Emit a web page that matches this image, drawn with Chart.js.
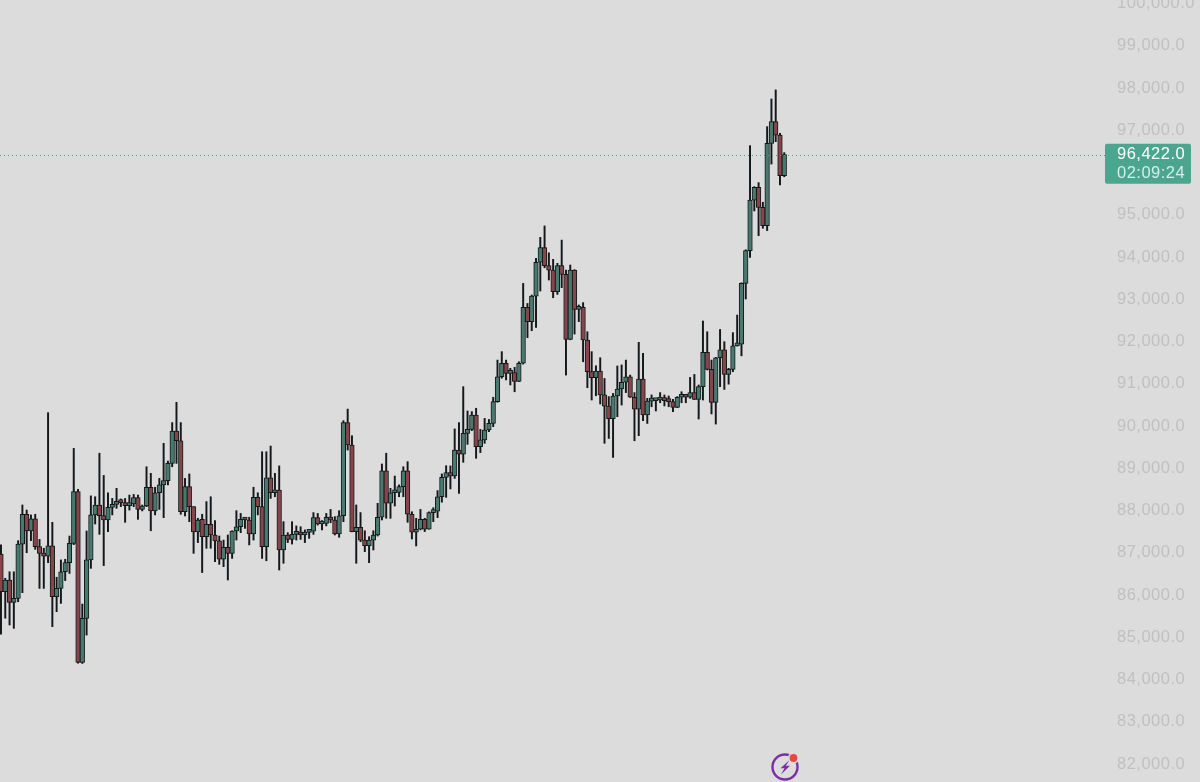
<!DOCTYPE html>
<html>
<head>
<meta charset="utf-8">
<title>BTC chart</title>
<script src="https://cdn.jsdelivr.net/npm/chart.js@4/dist/chart.umd.min.js"></script>
<style>
    html, body { margin: 0; padding: 0; background: #dcdcdc; overflow: hidden; }
    #wrap { position: relative; width: 1200px; height: 782px; }
    #logo { position: absolute; left: 768px; top: 750px; }
</style>
</head>
<body>
<div id="wrap">
    <canvas id="chart" width="1200" height="782"></canvas>
    <svg id="logo" width="34" height="32" viewBox="0 0 34 32">
        <circle cx="17" cy="17" r="12.5" fill="none" stroke="#7b2fa6" stroke-width="2.4"/>
        <path d="M21.5 10 L12.5 18.2 L16.5 18.2 L13 24.5 L22 15.8 L17.8 15.8 Z" fill="#7b2fa6"/>
        <circle cx="25.5" cy="8" r="5.6" fill="#dcdcdc"/>
        <circle cx="25.5" cy="8" r="3.9" fill="#e8483f"/>
    </svg>
</div>
<script>
const opens = [86970,86080,86355,85825,85920,87205,87910,87515,87800,87145,86985,86920,87165,85960,86155,86550,86765,87220,88445,84405,85445,86830,
    87895,88130,87880,87775,88075,88145,88210,88185,88115,88155,88305,88025,88105,88550,87990,88420,88605,88705,89115,89880,89650,87970,88565,88090,87490,
    87790,87380,87670,87420,87280,86845,87130,86985,87515,87615,87790,87775,87445,88310,88090,87145,88775,88420,88485,87065,87420,87315,87435,87470,87420,87480,
    87510,87830,87680,87695,87840,87775,87445,87875,90080,89550,87500,87600,87300,87165,87300,87420,87840,88940,88170,88420,88430,
    88565,88940,87910,87485,87555,87790,87560,87950,87985,88325,88785,88895,88815,89430,89335,89825,89920,90260,89510,89670,89905,90060,90575,91165,91485,91245,91265,91055,
    91485,92810,92470,93075,93875,94220,93795,93690,93180,93795,93590,92050,93690,92760,92810,92035,91285,91145,91300,90735,90470,90175,90710,90875,91035,91165,90680,90395,91110,90260,
    90590,90600,90615,90655,90600,90575,90440,90680,90695,90680,90790,90630,90930,91745,91340,90560,91615,91800,91220,91340,91895,
    91935,93375,94150,95345,95650,95175,94740,96690,97205,96885,95925];
const highs = [87185,86395,86550,86550,87285,88130,88010,87895,87910,87315,87105,90315,87720,86420,86830,86845,87395,89470,88500,85785,87515,88345,
    88325,89355,88830,88420,88285,88525,88272,88285,88365,88380,88365,88130,89035,88880,88550,88760,89590,89170,90080,90560,90080,88760,88865,88090,87815,
    87910,88210,88325,87760,87395,87300,87420,87520,87995,87930,87800,87840,88550,88420,89390,89390,89525,88880,89055,87735,87475,87735,87635,87615,87540,87530,
    87950,87930,87760,87930,88025,87855,87995,90125,90400,89770,88130,87950,87520,87380,87520,88170,89100,89355,88525,88815,88605,
    89035,89155,87970,87815,88025,87815,87970,88065,88470,88865,89060,89055,89930,90080,90930,90355,90340,90420,89920,90180,90155,90680,91560,91760,91560,91365,91390,91520,
    93375,92900,93100,93970,94465,94735,94100,93945,93850,94400,93690,93810,93700,92865,92920,92230,91760,91425,91615,91125,90695,90770,91420,91445,91560,91205,90790,91980,91720,90655,
    90735,90630,90790,90735,90710,90630,90695,90810,90735,91150,91220,90970,92485,92230,91560,91625,92285,91995,91365,92210,92625,
    93390,94170,96635,95665,95760,95295,97085,97740,97955,96930,96470];
const lows = [85070,85450,85290,85210,85840,86055,87000,87285,87080,86155,86155,86765,85250,85605,85800,86340,86510,87190,84385,84380,85050,86630,
    87680,87435,86695,87500,87895,88050,88090,87720,88010,88090,87790,87990,88090,87520,87895,88025,87830,88605,89035,89115,87910,87870,87735,86985,87240,
    86530,87105,87105,86790,86725,86670,86355,86865,87300,87475,87575,87185,87300,87895,86865,86810,88285,88325,86590,86750,87240,87205,87300,87315,87240,87340,
    87435,87655,87540,87635,87710,87420,87365,87735,89430,87495,86750,87260,87025,86765,87065,87395,87775,87815,87815,88105,88325,
    88325,87720,87325,87160,87540,87500,87555,87735,87830,88195,88310,88510,88760,88405,89140,89565,89890,89235,89370,89590,89865,89985,90560,91130,91090,90970,90810,91050,
    91465,92090,92255,92335,93195,93745,93455,93035,93115,93275,91205,92040,92175,92470,91520,90905,90615,90715,90520,89590,89705,89255,90220,90495,90790,90675,89650,89770,90125,90060,
    90455,90355,90550,90475,90455,90340,90435,90550,90550,90655,90625,90165,90615,91325,90285,90045,90930,90865,90990,91285,91890,
    91660,93005,93990,95090,94505,94680,94625,96200,96730,95705,95900];
const closes = [86080,86355,85825,85920,87205,87910,87515,87800,87145,86985,86920,87165,85960,86155,86550,86765,87220,88445,84405,85445,86830,87895,
    88130,87880,87775,88075,88145,88210,88185,88115,88155,88305,88025,88105,88550,87990,88420,88605,88705,89115,89880,89650,87970,88565,88090,87490,87775,
    87380,87670,87420,87280,86845,87130,86985,87515,87615,87790,87775,87445,88310,88090,87145,88775,88420,88485,87065,87420,87315,87435,87470,87420,87480,87510,
    87830,87680,87695,87840,87775,87445,87875,90080,89550,87500,87600,87300,87165,87300,87420,87840,88940,88170,88420,88430,88565,
    88940,87910,87485,87555,87790,87560,87950,87985,88325,88785,88895,88815,89430,89335,89825,89920,90260,89510,89670,89905,90060,90575,91165,91485,91245,91265,91055,91485,
    92810,92470,93075,93875,94220,93795,93690,93180,93795,93590,92050,93690,92760,92810,92035,91285,91145,91300,90735,90470,90175,90710,90875,91035,91165,90680,90395,91110,90260,90590,
    90600,90615,90655,90600,90575,90440,90680,90695,90680,90790,90630,90930,91745,91340,90560,91615,91800,91220,91340,91895,91935,
    93375,94150,95345,95650,95175,94740,96690,97205,96885,95925,96422];
const axisTicks = [82000,83000,84000,85000,86000,87000,88000,89000,90000,91000,92000,93000,94000,95000,96000,97000,98000,99000,100000];

const lastPrice = 96422;
const priceLabel = '96,422.0';
const countdownLabel = '02:09:24';

const upColor = '#467a6f';
const downColor = '#86444b';
const badgeColor = '#4ca58f';

const wickData = [];
const bodyData = [];
for (let i = 0; i < opens.length; i++) {
    wickData.push({ x: i, y: [lows[i], highs[i]] });
    bodyData.push({ x: i, y: [opens[i], closes[i]] });
}

// precio actual: linea punteada y etiqueta a la derecha del area
const priceTag = {
    id: 'priceTag',
    beforeDraw(chart) {
        chart.ctx.letterSpacing = '0.5px';
    },
    afterDraw(chart) {
        const c = chart.ctx;
        const area = chart.chartArea;
        const y = chart.scales.y.getPixelForValue(lastPrice);
        c.save();
        c.strokeStyle = badgeColor;
        c.lineWidth = 1;
        c.setLineDash([1, 3]);
        c.beginPath();
        c.moveTo(area.left, Math.round(y) + 0.5);
        c.lineTo(area.right + 1, Math.round(y) + 0.5);
        c.stroke();
        c.setLineDash([]);
        c.fillStyle = badgeColor;
        c.beginPath();
        c.roundRect(area.right + 1, y - 11, 86, 40, 2);
        c.fill();
        c.textBaseline = 'middle';
        c.font = '16.5px "Liberation Sans"';
        c.fillStyle = '#ffffff';
        c.fillText(priceLabel, area.right + 13, y);
        c.fillStyle = '#d2efe8';
        c.fillText(countdownLabel, area.right + 13, y + 19);
        c.restore();
    }
};

new Chart(document.getElementById('chart'), {
    type: 'bar',
    data: {
        datasets: [
            {
                label: 'body',
                data: bodyData,
                grouped: false,
                order: 1,
                barThickness: 4.6,
                minBarLength: 3,
                borderWidth: 1,
                borderSkipped: false,
                borderColor: '#14181a',
                backgroundColor: (ctx) => closes[ctx.dataIndex] >= opens[ctx.dataIndex] ? upColor : downColor
            },
            {
                label: 'wick',
                data: wickData,
                grouped: false,
                order: 2,
                barThickness: 1.3,
                backgroundColor: '#14181a'
            }
        ]
    },
    options: {
        responsive: false,
        animation: false,
        layout: { padding: 0 },
        plugins: {
            legend: { display: false },
            tooltip: { enabled: false }
        },
        scales: {
            x: {
                type: 'linear',
                display: false,
                offset: false,
                min: -0.23,
                max: 257.7
            },
            y: {
                position: 'right',
                min: 81573,
                max: 100083,
                afterBuildTicks(scale) {
                    scale.ticks = axisTicks.map((value) => ({ value }));
                },
                afterFit(scale) {
                    scale.width = 96;
                    scale.paddingTop = 0;
                    scale.paddingBottom = 0;
                },
                border: { display: false },
                grid: { display: false, drawTicks: false },
                ticks: {
                    autoSkip: false,
                    padding: 13,
                    color: '#c0c0c0',
                    font: { family: '"Liberation Sans"', size: 16.5 },
                    callback: (v) => v.toLocaleString('en-US') + '.0'
                }
            }
        }
    },
    plugins: [priceTag]
});
</script>
</body>
</html>
